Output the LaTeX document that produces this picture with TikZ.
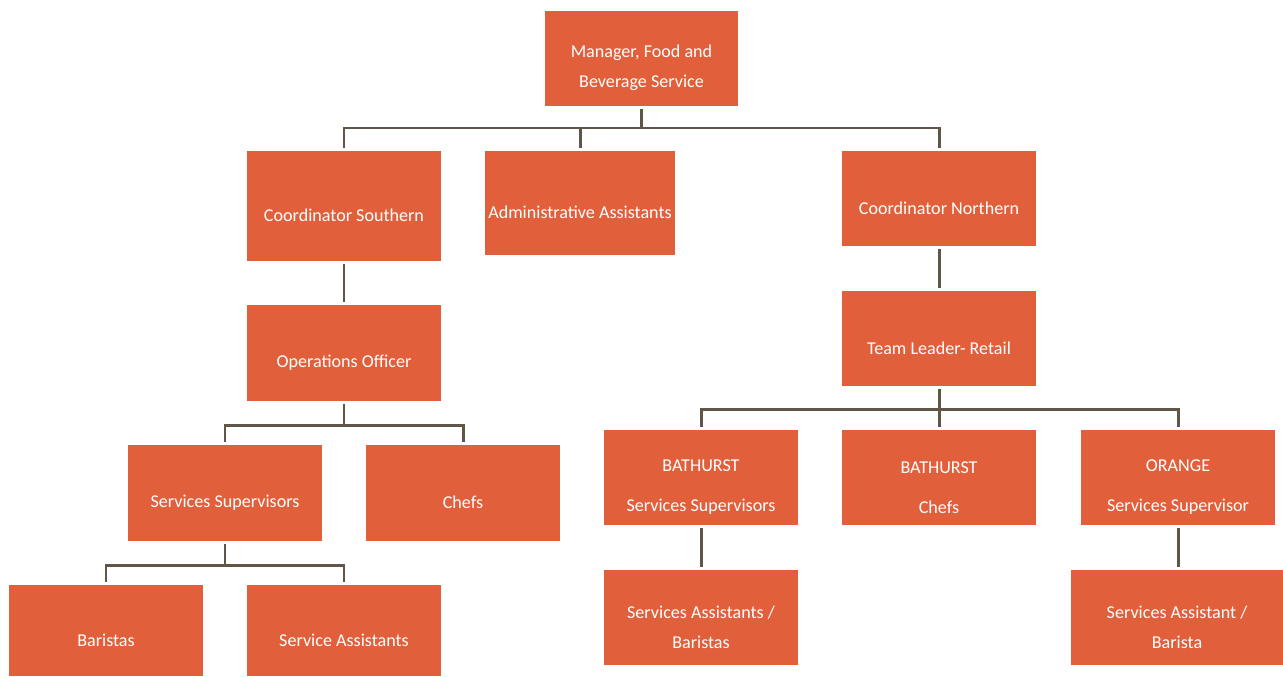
\documentclass[tikz,border=0pt]{standalone}
\usepackage{fontspec}
\setmainfont{Carlito}
\definecolor{boxorange}{HTML}{E25F3B}
\definecolor{linkgrey}{HTML}{5F5648}
\newcommand\lift{\rule{0pt}{18pt}}
\tikzset{
  unit/.style={fill=boxorange, text=white, inner sep=0pt, align=center,
    minimum width=3.88cm, minimum height=1.9cm,
    font=\fontsize{10.3}{17}\selectfont},
  link/.style={draw=linkgrey, line width=1.7pt, shorten <=1.5pt, shorten >=1.5pt}
}
\begin{document}
\begin{tikzpicture}[x=0.02cm, y=-0.02cm]
        \useasboundingbox (0,0) rectangle (1283,676);

        % Manager
        \node[unit, minimum width=3.86cm] (manager) at (641.5,58.5) {\lift Manager, Food and\\Beverage Service};

        % Coordinators and admin
        \node[unit, minimum height=2.2cm] (southern) at (344,206) {\lift Coordinator Southern};
        \node[unit, minimum width=3.8cm, minimum height=2.08cm] (admin) at (580,203) {\lift Administrative Assistants};
        \node[unit] (northern) at (939,198.5) {\lift Coordinator Northern};

        \draw[link] (manager.south) -- (manager.south |- 0,128) -| (southern.north);
        \draw[link] (manager.south) -- (manager.south |- 0,128) -| (admin.north);
        \draw[link] (manager.south) -- (manager.south |- 0,128) -| (northern.north);

        % Southern side
        \node[unit, minimum height=1.92cm] (ops) at (344,353) {\lift Operations Officer};
        \draw[link] (southern) -- (ops);

        \node[unit, minimum height=1.92cm] (supervisors) at (225,493) {\lift Services Supervisors};
        \node[unit, minimum height=1.92cm] (chefs) at (463,493) {\lift Chefs};
        \draw[link] (ops.south) -- (ops.south |- 0,425) -| (supervisors.north);
        \draw[link] (ops.south) -- (ops.south |- 0,425) -| (chefs.north);

        \node[unit, minimum height=1.82cm] (baristas) at (106,630.5) {\lift Baristas};
        \node[unit, minimum height=1.82cm] (assistants) at (344,630.5) {\lift Service Assistants};
        \draw[link] (supervisors.south) -- (supervisors.south |- 0,565) -| (baristas.north);
        \draw[link] (supervisors.south) -- (supervisors.south |- 0,565) -| (assistants.north);

        % Northern side
        \node[unit] (leader) at (939,338.5) {\lift Team Leader- Retail};
        \draw[link] (northern) -- (leader);

        \node[unit] (bsupervisors) at (701,477.5) {\lift BATHURST\\[5.7pt]Services Supervisors};
        \node[unit] (bchefs) at (939,477.5) {\lift BATHURST\\[5.7pt]Chefs};
        \node[unit] (osupervisor) at (1178,477.5) {\lift ORANGE\\[5.7pt]Services Supervisor};
        \draw[link] (leader.south) -- (leader.south |- 0,409) -| (bsupervisors.north);
        \draw[link] (leader.south) -- (leader.south |- 0,409) -| (bchefs.north);
        \draw[link] (leader.south) -- (leader.south |- 0,409) -| (osupervisor.north);

        \node[unit] (bassistants) at (701,617.5) {\lift Services Assistants /\\Baristas};
        \node[unit, minimum width=4.24cm] (oassistant) at (1177,617.5) {\lift Services Assistant /\\Barista};
        \draw[link] (bsupervisors) -- (bassistants);
        \draw[link] (osupervisor.south) -- (oassistant.north -| osupervisor.south);
\end{tikzpicture}
\end{document}
